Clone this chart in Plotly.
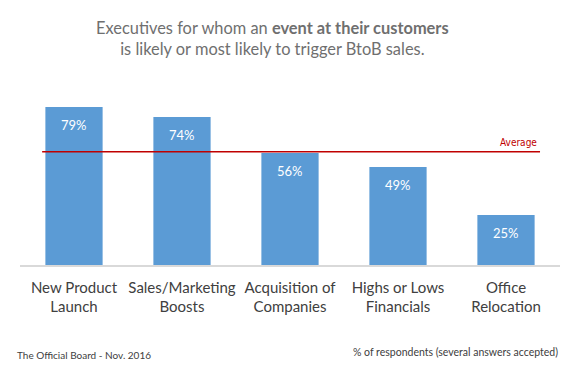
import plotly.graph_objects as go

categories = ["New Product<br>Launch", "Sales/Marketing<br>Boosts", "Acquisition of<br>Companies",
              "Highs or Lows<br>Financials", "Office<br>Relocation"]
values = [79, 74, 56, 49, 25]
labels = [f"{v}%" for v in values]
average = sum(values) / len(values)

FONT = "Lato, 'Open Sans', sans-serif"

fig = go.Figure()
fig.add_trace(go.Bar(x=categories, y=values, marker_color="#5B9BD5",
                     marker_line_width=0, width=0.53, hoverinfo="skip"))

for c, v, t in zip(categories, values, labels):
    fig.add_annotation(x=c, y=v, text=t, showarrow=False, yanchor="top", yshift=-8,
                       font=dict(family=FONT, size=13, color="white"))

fig.add_shape(type="line", xref="paper", yref="y", x0=0.041, x1=0.963,
              y0=average, y1=average, line=dict(color="#C00000", width=1.5))
fig.add_annotation(xref="paper", yref="y", x=0.962, y=average, text="Average",
                   showarrow=False, xanchor="right", yanchor="bottom", yshift=2,
                   font=dict(family="'Liberation Sans Narrow', 'DejaVu Sans Condensed', sans-serif",
                             size=10, color="#C00000"))

fig.add_annotation(xref="paper", yref="paper", x=0.5, y=1, yshift=5, xshift=-18,
                   text="Executives for whom an <b>event at their customers</b><br>is likely or most likely to trigger BtoB sales.",
                   showarrow=False, yanchor="bottom", align="center",
                   font=dict(family=FONT, size=16.4, color="#6f6f6f"))

fig.add_annotation(xref="paper", yref="paper", x=-0.01, y=0, yshift=-90,
                   text="The Official Board - Nov. 2016", showarrow=False,
                   xanchor="left", yanchor="middle",
                   font=dict(family=FONT, size=10, color="#404040"))
fig.add_annotation(xref="paper", yref="paper", x=1.0, y=0, yshift=-87,
                   text="% of respondents (several answers accepted)", showarrow=False,
                   xanchor="right", yanchor="middle",
                   font=dict(family=FONT, size=10.5, color="#404040"))

fig.update_layout(
    width=566, height=368,
    margin=dict(l=20, r=6, t=65, b=103),
    paper_bgcolor="white", plot_bgcolor="white",
    showlegend=False,
    xaxis=dict(showline=True, linecolor="#d9d9d9", linewidth=1.5, ticks="",
               ticklabelstandoff=8,
               tickfont=dict(family=FONT, size=15, color="#404040"), showgrid=False),
    yaxis=dict(range=[0, 100], visible=False, showgrid=False),
)

fig.write_html("out.html", config={"displayModeBar": False},
               post_script="document.body.style.margin='0';document.body.style.overflow='hidden';")
